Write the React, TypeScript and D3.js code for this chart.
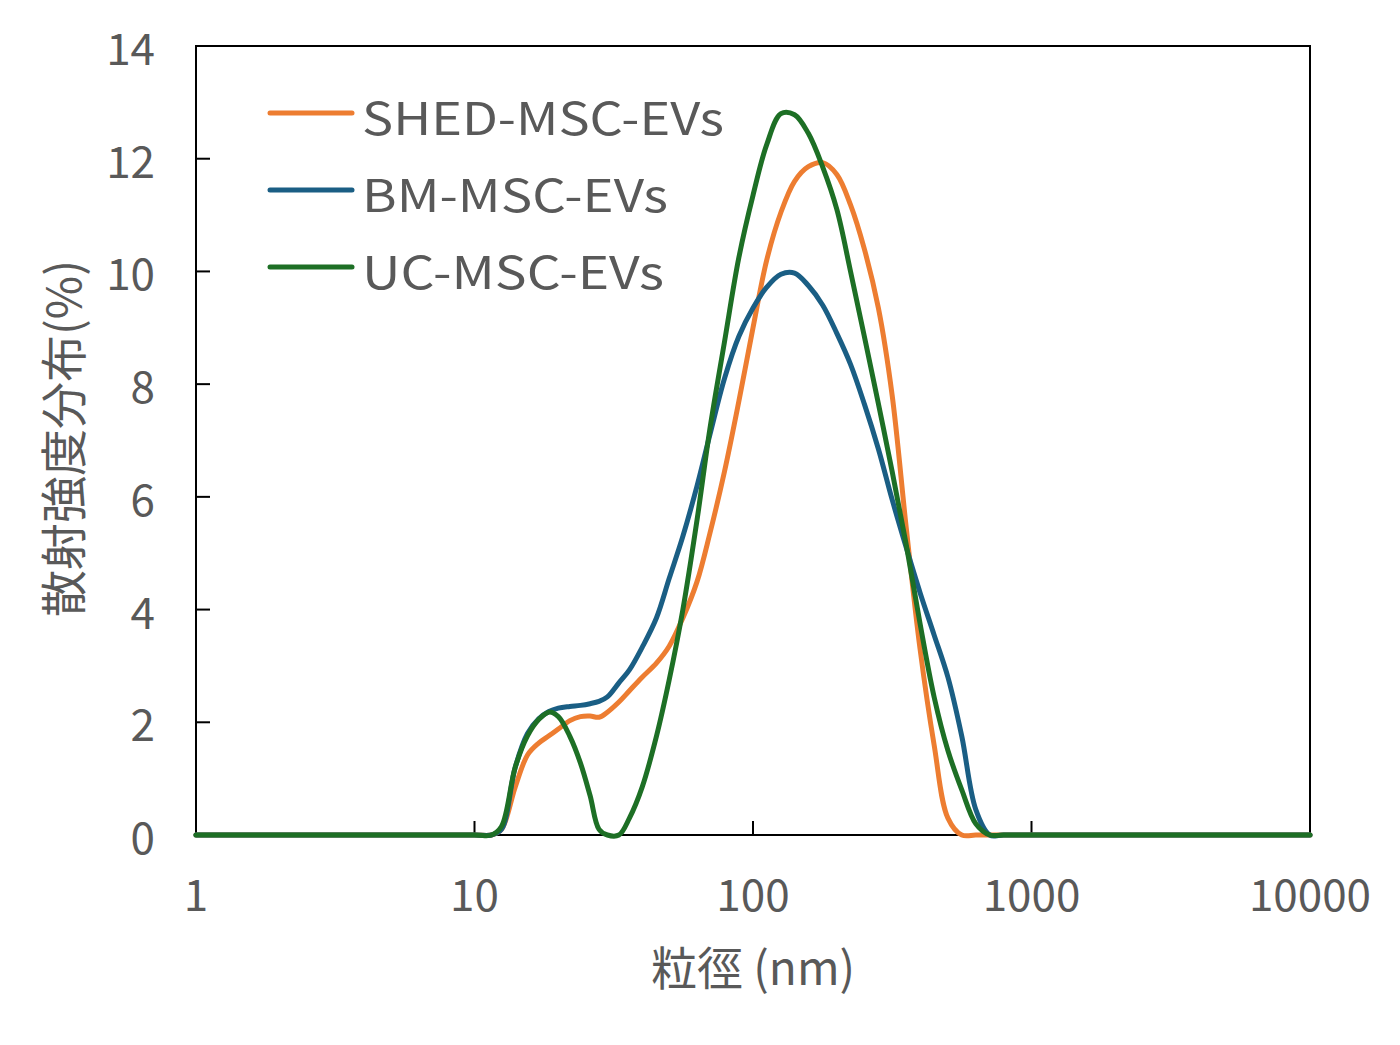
import React, { useEffect } from "react";
import * as d3 from "d3";

// particle size bins (nm)
const sizes = [
  1, 10, 11.5, 12.5, 14, 15.5, 17, 18.5, 20, 22, 24, 26, 28, 30, 33, 36, 40, 45, 50, 56, 63, 70,
  79, 89, 100, 112, 126, 141, 158, 178, 200, 224, 251, 282, 316, 355, 398, 447, 501, 562, 631,
  708, 794, 10000,
];

const shedValues = [
  0, 0, 0, 0.1, 0.85, 1.42, 1.63, 1.76, 1.88, 2.03, 2.1, 2.11, 2.09, 2.18, 2.36, 2.56, 2.8, 3.05,
  3.35, 3.85, 4.5, 5.35, 6.45, 7.7, 9.0, 10.2, 11.05, 11.6, 11.86, 11.93, 11.72, 11.18, 10.4, 9.35,
  7.8, 5.45, 3.3, 1.6, 0.3, 0, 0, 0, 0, 0,
];

const bmValues = [
  0, 0, 0, 0.1, 1.2, 1.8, 2.06, 2.19, 2.25, 2.28, 2.3, 2.33, 2.37, 2.45, 2.7, 2.93, 3.33, 3.85,
  4.55, 5.3, 6.2, 7.1, 8.1, 8.85, 9.35, 9.72, 9.95, 9.97, 9.75, 9.4, 8.9, 8.35, 7.65, 6.85, 5.95,
  5.1, 4.3, 3.55, 2.8, 1.75, 0.45, 0, 0, 0,
];

const ucValues = [
  0, 0, 0, 0.15, 1.2, 1.76, 2.05, 2.18, 2.1, 1.75, 1.28, 0.7, 0.1, 0, 0, 0.3, 0.85, 1.75, 2.75,
  4.0, 5.6, 7.2, 8.75, 10.25, 11.35, 12.25, 12.8, 12.78, 12.45, 11.85, 11.1, 10.0, 8.85, 7.65,
  6.45, 5.15, 3.75, 2.45, 1.5, 0.8, 0.2, 0, 0, 0,
];

const seriesNames = ["SHED-MSC-EVs", "BM-MSC-EVs", "UC-MSC-EVs"];
const seriesColors = ["#ED7D31", "#1A5E84", "#1D6F25"];
const legendWidths = [362, 306, 302];
const xTicks = [1, 10, 100, 1000, 10000];
const yTicks = [0, 2, 4, 6, 8, 10, 12, 14];

const W = 1400;
const H = 1045;
const plot = { left: 196, right: 1310, top: 46, bottom: 835 };
const FONT = "'Noto Sans CJK JP', 'Noto Sans', sans-serif";
const TEXT = "#595959";

export default function App() {
  useEffect(() => {
    document.body.style.margin = "0";
  }, []);

  const x = d3.scaleLog().domain([1, 10000]).range([plot.left, plot.right]);
  const y = d3.scaleLinear().domain([0, 14]).range([plot.bottom, plot.top]);

  const line = d3
    .line<[number, number]>()
    .x((d) => x(d[0]))
    .y((d) => y(d[1]))
    .curve(d3.curveCatmullRom.alpha(0.5));

  const series = [shedValues, bmValues, ucValues].map((vals) =>
    sizes.map((s, i) => [s, vals[i]] as [number, number])
  );

  return (
    <svg width={W} height={H} style={{ display: "block", background: "#fff" }} fontFamily={FONT}>
      {/* frame */}
      <rect
        x={plot.left}
        y={plot.top}
        width={plot.right - plot.left}
        height={plot.bottom - plot.top}
        fill="none"
        stroke="#000"
        strokeWidth={2}
      />

      {/* y ticks, pointing inward */}
      {yTicks.map((t) => (
        <g key={"y" + t}>
          <line x1={plot.left} x2={plot.left + 14} y1={y(t)} y2={y(t)} stroke="#000" strokeWidth={2} />
          <text
            x={155}
            y={y(t)}
            textAnchor="end"
            dominantBaseline="central"
            fontSize={44}
            fill={TEXT}
          >
            {t}
          </text>
        </g>
      ))}

      {/* x ticks, pointing inward */}
      {xTicks.map((t) => (
        <g key={"x" + t}>
          <line x1={x(t)} x2={x(t)} y1={plot.bottom} y2={plot.bottom - 14} stroke="#000" strokeWidth={2} />
          <text
            x={x(t)}
            y={892}
            textAnchor="middle"
            dominantBaseline="central"
            fontSize={44}
            fill={TEXT}
          >
            {t}
          </text>
        </g>
      ))}

      {/* curves */}
      {series.map((pts, i) => (
        <path
          key={seriesNames[i]}
          d={line(pts) || ""}
          fill="none"
          stroke={seriesColors[i]}
          strokeWidth={5}
          strokeLinecap="round"
          strokeLinejoin="round"
        />
      ))}

      {/* legend */}
      {seriesNames.map((name, i) => {
        const ly = 113 + i * 77;
        return (
          <g key={"lg" + name}>
            <line x1={270} x2={352} y1={ly} y2={ly} stroke={seriesColors[i]} strokeWidth={5} strokeLinecap="round" />
            <text
              x={362}
              y={ly + 2}
              dominantBaseline="central"
              fontSize={45}
              fill={TEXT}
              textLength={legendWidths[i]}
              lengthAdjust="spacingAndGlyphs"
            >
              {name}
            </text>
          </g>
        );
      })}

      {/* axis titles */}
      <text x={753} y={965} textAnchor="middle" dominantBaseline="central" fontSize={46} fill={TEXT}>
        粒徑 (nm)
      </text>
      <text
        transform={`translate(60, ${(plot.top + plot.bottom) / 2 - 2}) rotate(-90)`}
        textAnchor="middle"
        dominantBaseline="central"
        fontSize={47}
        fill={TEXT}
      >
        散射強度分布(%)
      </text>
    </svg>
  );
}
